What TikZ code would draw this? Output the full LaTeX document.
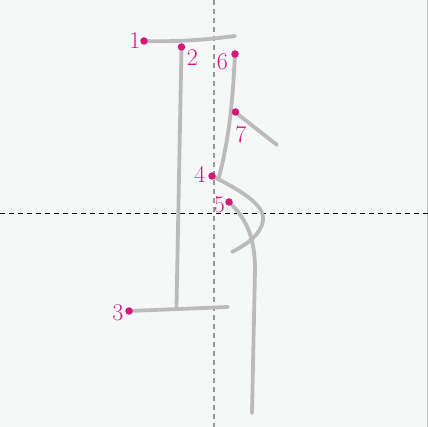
\documentclass[tikz,border=0pt]{standalone}
\usepackage{fontspec}
\begin{document}
\begin{tikzpicture}[x=1pt,y=-1pt,
  stroke/.style={draw=strokegray,line width=3.8pt,line cap=round,line join=round},
  dotmark/.style={circle,fill=magentac,inner sep=0pt,minimum size=7.5pt},
  numlabel/.style={text=magentac,font=\fontsize{24}{24}\selectfont,inner sep=0pt}]
\definecolor{strokegray}{HTML}{BBBBBB}
\definecolor{magentac}{HTML}{D4177E}
\definecolor{bgc}{HTML}{F6F8F8}
\definecolor{gridgray}{HTML}{999999}
\useasboundingbox (0,0) rectangle (428,427);
\fill[bgc] (0,0) rectangle (428,427);
\draw[gridgray!60,line width=1pt] (427,0) -- (427,427);
% guide lines
\coordinate (vt) at (214,0); \coordinate (vb) at (214,427);
\coordinate (hl) at (0,213); \coordinate (hr) at (428,213);
\draw[gridgray,line width=1.1pt,dash pattern=on 5pt off 4pt] (vt) -- (vb);
\draw[black,line width=0.9pt,dash pattern=on 5pt off 4pt] (hl) -- (hr);
% stroke 1
\coordinate (s1a) at (144,41); \coordinate (s1b) at (235,36);
\draw[stroke] (s1a) .. controls (175,42) and (205,40) .. (s1b);
% stroke 2
\coordinate (s2a) at (181.5,47); \coordinate (s2b) at (176.5,307);
\draw[stroke] (s2a) -- (s2b);
% stroke 3
\coordinate (s3a) at (129,311); \coordinate (s3b) at (228,307);
\draw[stroke] (s3a) -- (s3b);
% stroke 6
\coordinate (s6a) at (235,54); \coordinate (s6b) at (219,177);
\draw[stroke] (s6a) .. controls (233,95) and (230,135) .. (s6b);
% stroke 7
\coordinate (s7a) at (235,112); \coordinate (s7b) at (277,145);
\draw[stroke] (s7a) -- (s7b);
% stroke 4
\coordinate (s4a) at (214,177); \coordinate (s4b) at (232,252);
\draw[stroke] (s4a) .. controls (240,190) and (265,205) .. (263,220)
  .. controls (261,236) and (245,245) .. (s4b);
% stroke 5
\coordinate (s5a) at (229,202); \coordinate (s5b) at (252,413);
\draw[stroke] (s5a) .. controls (248,220) and (255,240) .. (255,270)
  -- (s5b);
% dots
\node[dotmark] (d1) at (s1a) {};
\node[dotmark] (d2) at (s2a) {};
\node[dotmark] (d3) at (s3a) {};
\node[dotmark] (d4) at (212,176) {};
\node[dotmark] (d5) at (229,202) {};
\node[dotmark] (d6) at (235,54) {};
\node[dotmark] (d7) at (235.5,112) {};
% labels
\node[numlabel] (l1) at (135,41) {1};
\node[numlabel] (l2) at (192.5,58) {2};
\node[numlabel] (l3) at (118,313) {3};
\node[numlabel] (l4) at (200,174.5) {4};
\node[numlabel] (l5) at (219.5,205) {5};
\node[numlabel] (l6) at (222.5,62) {6};
\node[numlabel] (l7) at (241,135) {7};
\end{tikzpicture}
\end{document}
